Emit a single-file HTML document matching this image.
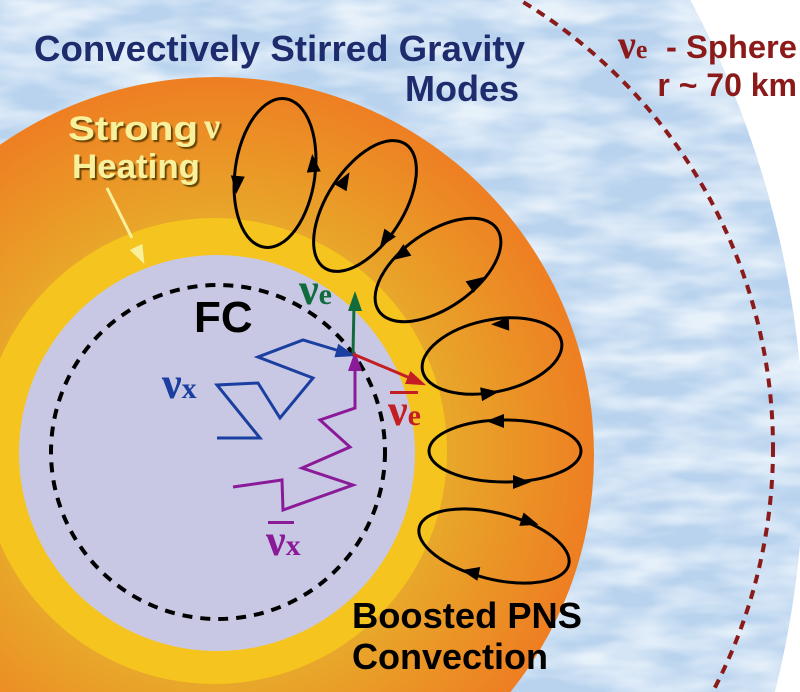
<!DOCTYPE html>
<html><head><meta charset="utf-8"><style>html,body{margin:0;padding:0;background:#fff;overflow:hidden;width:800px;height:692px}svg{display:block}</style></head>
<body>
<svg width="800" height="692" viewBox="0 0 800 692" xmlns="http://www.w3.org/2000/svg">
<defs>
<filter id="cloud" x="0" y="0" width="100%" height="100%">
<feTurbulence type="fractalNoise" baseFrequency="0.012 0.04" numOctaves="3" seed="4" result="n"/>
<feColorMatrix in="n" type="matrix" values="0 0 0 0 0.80  0 0 0 0 0.88  0 0 0 0 0.96  0 0 0 -2.2 1.5"/>
</filter>
<clipPath id="bc"><circle cx="-167" cy="456" r="971"/></clipPath>
<radialGradient id="og" cx="216" cy="453" r="382" gradientUnits="userSpaceOnUse">
<stop offset="0.6" stop-color="#e8a82a"/>
<stop offset="1" stop-color="#ee7d22"/>
</radialGradient>
<filter id="sh"><feDropShadow dx="2" dy="2" stdDeviation="0.5" flood-color="#5a3a00" flood-opacity="0.9"/></filter>
</defs>
<rect width="800" height="692" fill="#fff"/>
<g clip-path="url(#bc)">
<rect width="800" height="692" fill="#b9d3ee"/>
<rect width="800" height="692" filter="url(#cloud)"/>
</g>
<circle cx="250" cy="448" r="523" fill="none" stroke="#8b1a1a" stroke-width="4" stroke-dasharray="9 7"/>
<circle cx="216" cy="455" r="378" fill="url(#og)"/>
<circle cx="214" cy="451" r="233" fill="#f5c41e"/>
<circle cx="217" cy="453" r="198" fill="#c8c8e4"/>
<circle cx="218" cy="452" r="167" fill="none" stroke="#000" stroke-width="4" stroke-dasharray="10 8"/>

<g fill="none" stroke="#000" stroke-width="3">
<ellipse cx="275" cy="173" rx="40" ry="75" transform="rotate(8 275 173)"/>
<ellipse cx="365" cy="206" rx="38" ry="74" transform="rotate(33 365 206)"/>
<ellipse cx="438" cy="270" rx="72" ry="38" transform="rotate(-35 438 270)"/>
<ellipse cx="492" cy="356" rx="71" ry="36" transform="rotate(-12 492 356)"/>
<ellipse cx="505" cy="451" rx="76" ry="31"/>
<ellipse cx="494" cy="546" rx="77" ry="33" transform="rotate(14 494 546)"/>
</g>
<g fill="#000">
<polygon points="9,0 -9,-7 -9,7" transform="translate(313,163) rotate(-95)"/>
<polygon points="9,0 -9,-7 -9,7" transform="translate(237,185) rotate(95)"/>
<polygon points="9,0 -9,-7 -9,7" transform="translate(345,180) rotate(-60)"/>
<polygon points="9,0 -9,-7 -9,7" transform="translate(385,240) rotate(125)"/>
<polygon points="9,0 -9,-7 -9,7" transform="translate(400,255) rotate(145)"/>
<polygon points="9,0 -9,-7 -9,7" transform="translate(477,282) rotate(-35)"/>
<polygon points="9,0 -9,-7 -9,7" transform="translate(500,324) rotate(178)"/>
<polygon points="9,0 -9,-7 -9,7" transform="translate(490,393) rotate(-8)"/>
<polygon points="9,0 -9,-7 -9,7" transform="translate(495,421) rotate(180)"/>
<polygon points="9,0 -9,-7 -9,7" transform="translate(522,482) rotate(0)"/>
<polygon points="9,0 -9,-7 -9,7" transform="translate(530,522) rotate(18)"/>
<polygon points="9,0 -9,-7 -9,7" transform="translate(470,572) rotate(192)"/>
</g>

<polyline points="217,438 260,438 217,385 258,383 280,418 313,378 258,357 303,340 343,352" fill="none" stroke="#1a3fa0" stroke-width="3"/>
<polygon points="11,0 -9,-7 -9,7" transform="translate(345,353) rotate(16)" fill="#1a3fa0"/>
<polyline points="233,487 282,480 283,510 353,485 302,468 350,447 320,420 355,408 355,365" fill="none" stroke="#8a1a98" stroke-width="3"/>
<polygon points="11,0 -9,-7 -9,7" transform="translate(355,362) rotate(-90)" fill="#8a1a98"/>
<line x1="353" y1="354" x2="354" y2="305" stroke="#126b3c" stroke-width="3"/>
<polygon points="11,0 -9,-7 -9,7" transform="translate(355,302) rotate(-90)" fill="#126b3c"/>
<line x1="353" y1="354" x2="410" y2="378" stroke="#c41e24" stroke-width="3"/>
<polygon points="11,0 -9,-7 -9,7" transform="translate(416,381) rotate(23)" fill="#c41e24"/>

<g font-family="Liberation Serif, serif" font-weight="bold">
<text x="299" y="304" font-size="44" fill="#126b3c">ν<tspan font-size="30">e</tspan></text>
<text x="162" y="398" font-size="44" fill="#1a3fa0">ν<tspan font-size="30">x</tspan></text>
<text x="388" y="425" font-size="44" fill="#c41e24">ν<tspan font-size="30">e</tspan></text>
<rect x="390" y="391" width="28" height="3" fill="#c41e24"/>
<text x="266" y="555" font-size="44" fill="#8a1a98">ν<tspan font-size="30">x</tspan></text>
<rect x="268" y="521" width="26" height="3" fill="#8a1a98"/>
<text x="618" y="58" font-size="40" fill="#8b1a1a">ν<tspan font-size="26">e</tspan></text>
</g>

<g font-family="Liberation Sans, sans-serif" font-weight="bold">
<text x="34" y="61" font-size="36" fill="#1e2c6e" textLength="491" lengthAdjust="spacingAndGlyphs">Convectively Stirred Gravity</text>
<text x="519" y="101" font-size="36" fill="#1e2c6e" text-anchor="end">Modes</text>
<text x="666" y="58" font-size="32" fill="#8b1a1a" textLength="131" lengthAdjust="spacingAndGlyphs">- Sphere</text>
<text x="797" y="96" font-size="32" fill="#8b1a1a" text-anchor="end">r ~ 70 km</text>
<g filter="url(#sh)" fill="#f8f09a">
<text x="68" y="140" font-size="34" textLength="130" lengthAdjust="spacingAndGlyphs">Strong</text>
<text x="204" y="138" font-size="36" font-family="Liberation Serif, serif">ν</text>
<text x="72" y="178" font-size="34" textLength="128" lengthAdjust="spacingAndGlyphs">Heating</text>
</g>
<text x="194" y="332" font-size="44" fill="#000">FC</text>
<text x="352" y="628" font-size="36" fill="#000" textLength="230" lengthAdjust="spacingAndGlyphs">Boosted PNS</text>
<text x="352" y="669" font-size="36" fill="#000">Convection</text>
</g>
<line x1="107" y1="188" x2="132" y2="238" stroke="#f8f09a" stroke-width="3"/>
<polygon points="10,0 -9,-7 -9,7" transform="translate(140,255) rotate(64)" fill="#f8f09a"/>
</svg>
</body></html>
